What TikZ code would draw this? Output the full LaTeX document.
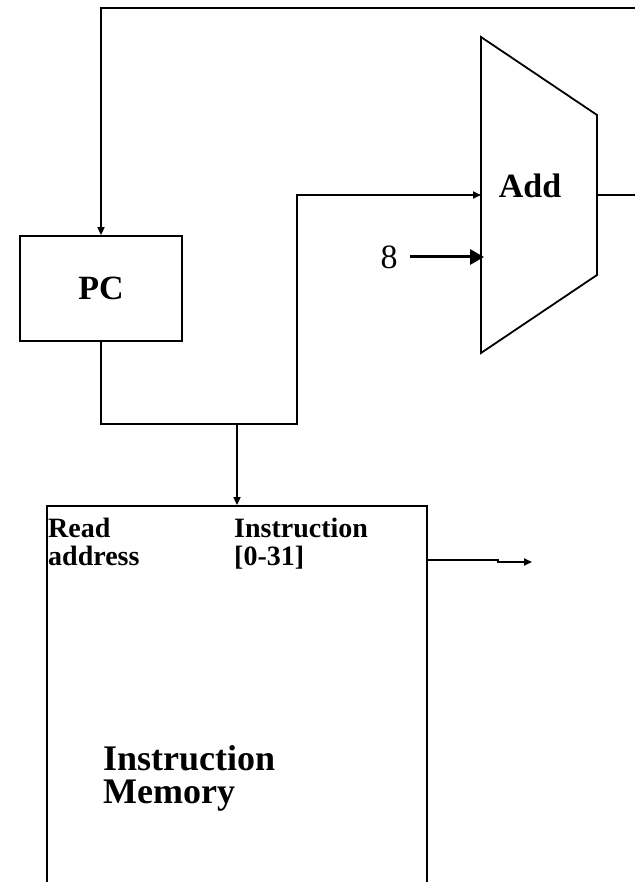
\documentclass[tikz,border=0pt]{standalone}
\usepackage{fontspec}
\setmainfont{Liberation Serif}
\usetikzlibrary{arrows.meta}

\tikzset{
  unit/.style={draw, line width=1.8pt, inner sep=0pt},
  wire/.style={line width=1.8pt},
  tip/.style={wire, -{Triangle[length=8pt,width=7pt]}},
  bigtip/.style={line width=3pt, -{Triangle[length=14pt,width=15pt]}},
  label/.style={font=\fontsize{28}{28}\selectfont\bfseries, align=left, inner sep=0pt, anchor=north west},
}

\begin{document}
\begin{tikzpicture}[x=1pt,y=-1pt]
    \useasboundingbox (0,0) rectangle (635,882);
    \clip (0,0) rectangle (635,882);

    % PC register
    \node[unit, minimum width=162pt, minimum height=105pt,
          font=\fontsize{34}{34}\selectfont\bfseries] (pc) at (101,288.5) {PC};

    % Adder
    \draw[wire] (481,37) -- (597,115) -- (597,275) -- (481,353) -- cycle;
    \coordinate (addA) at (481,195);
    \coordinate (addB) at (481,257);
    \coordinate (addout) at (597,195);
    \node[font=\fontsize{34}{34}\selectfont\bfseries, anchor=base] (add) at (530,198) {Add};
    \node[font=\fontsize{34}{34}\selectfont, anchor=base] (four) at (389,269) {8};

    % Instruction memory (runs past the bottom edge)
    \node[unit, minimum width=380pt, minimum height=440pt] (imem) at (237,726) {};
    \node[label] (raddr) at (48,518) {Read\\address};
    \node[label] (instr) at (234,518) {Instruction\\{[0-31]}};
    \node[font=\fontsize{36}{33}\selectfont\bfseries, align=left, inner sep=0pt,
          anchor=north west] (imname) at (103,745) {Instruction\\Memory};

    % Wires
    \coordinate (split) at (237,424);
    \coordinate (edge) at (635,8);
    \coordinate (outend) at (532,562);
    \draw[tip] (edge) -- (pc.north |- edge) -- (pc.north);
    \draw[tip] (pc.south) -- (pc.south |- split) -- (297,424) -- (297,195) -- (addA);
    \draw[tip] (split) -- (imem.north);
    \draw[wire] (addout) -- (635,195);
    \draw[bigtip] (410,257) -- ([xshift=3pt]addB);
    \draw[tip] (427,560) -- (498,560) -- (498,562) -- (outend);
\end{tikzpicture}
\end{document}
